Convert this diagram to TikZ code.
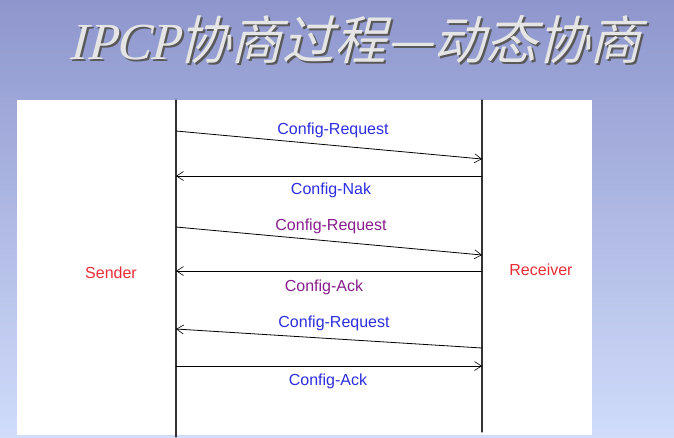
\documentclass[tikz,border=0pt]{standalone}
\usepackage{fontspec}
\setmainfont{Liberation Sans}
\newfontfamily\cjktitle[FakeSlant=0.25]{Noto Sans CJK SC}
\newfontfamily\lattitle[FakeSlant=0.25]{Liberation Serif}
\usetikzlibrary{arrows.meta}
\definecolor{msgblue}{RGB}{45,45,225}
\definecolor{msgpurple}{RGB}{135,30,140}
\definecolor{rolered}{RGB}{235,45,55}
\definecolor{slidetop}{RGB}{142,150,205}
\definecolor{slidebot}{RGB}{208,220,250}
\tikzset{
  msg/.style={draw,line width=0.8pt,-{Straight Barb[length=7pt,width=9pt,line width=0.6pt]}},
  lbl/.style={font=\fontsize{16}{16}\selectfont,inner sep=1pt},
  role/.style={font=\fontsize{16}{16}\selectfont,text=rolered,inner sep=1pt},
  titletext/.style={font=\fontsize{52}{52}\selectfont,inner sep=0pt},
}
\begin{document}
\begin{tikzpicture}[x=1pt,y=-1pt, line join=round, line cap=round]
		\shade[top color=slidetop,bottom color=slidebot] (0,0) rectangle (674,437);
		\useasboundingbox (0,0) rectangle (674,437);
		% title
		\node[titletext,text=black!65] (titleshadow) at (357,42) {\lattitle IPCP\cjktitle 协商过程—动态协商};
		\node[titletext,text=white!90!black] (title) at (355,40) {\lattitle IPCP\cjktitle 协商过程—动态协商};
		% panel and life lines
		\fill[white] (17,100) rectangle (592,435);
		\coordinate (stop) at (176,100); \coordinate (sbot) at (176,437);
		\coordinate (rtop) at (482,100); \coordinate (rbot) at (482,432);
		\draw[line width=1.2pt,black!80] (stop)--(sbot) (rtop)--(rbot);
		\node[role] (sender) at (111,273) {Sender};
		\node[role] (receiver) at (541,270) {Receiver};
		% message end points
		\coordinate (s1) at (176,131); \coordinate (r1) at (482,159);
		\coordinate (r2) at (482,176); \coordinate (s2) at (176,176);
		\coordinate (s3) at (176,227); \coordinate (r3) at (482,255);
		\coordinate (r4) at (482,271); \coordinate (s4) at (176,271);
		\coordinate (r5) at (482,348); \coordinate (s5) at (176,329);
		\coordinate (s6) at (176,366); \coordinate (r6) at (482,366);
		\draw[msg] (s1)--(r1);
		\draw[msg] (r2)--(s2);
		\draw[msg] (s3)--(r3);
		\draw[msg] (r4)--(s4);
		\draw[msg] (r5)--(s5);
		\draw[msg] (s6)--(r6);
		\node[lbl,text=msgblue] (m1) at (333,130) {Config-Request};
		\node[lbl,text=msgblue] (m2) at (331,190) {Config-Nak};
		\node[lbl,text=msgpurple] (m3) at (331,226) {Config-Request};
		\node[lbl,text=msgpurple] (m4) at (324,287) {Config-Ack};
		\node[lbl,text=msgblue] (m5) at (334,323) {Config-Request};
		\node[lbl,text=msgblue] (m6) at (328,381) {Config-Ack};
		\end{tikzpicture}
\end{document}
